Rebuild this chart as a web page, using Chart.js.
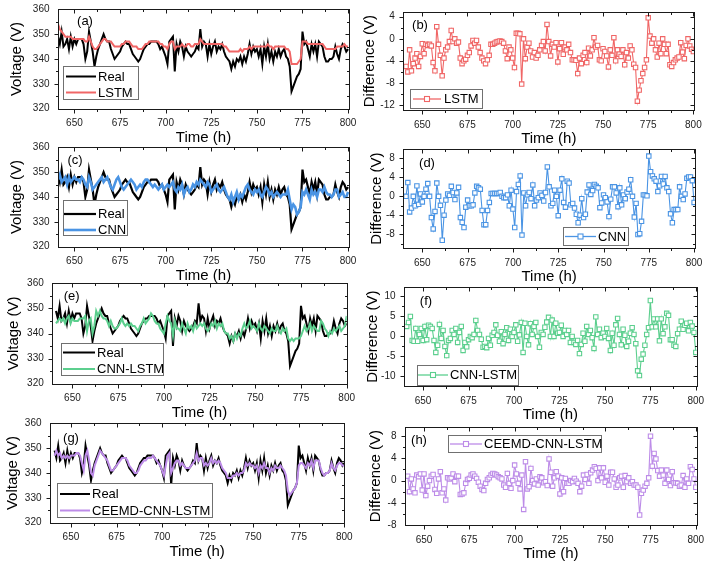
<!DOCTYPE html>
<html>
<head>
<meta charset="utf-8">
<script src="https://cdn.jsdelivr.net/npm/chart.js@4.4.1/dist/chart.umd.min.js"></script>
<style>
body { margin: 0; background: #fff; width: 709px; height: 565px; overflow: hidden; position: relative; }
canvas { position: absolute; }
</style>
</head>
<body>
<canvas id="pa"></canvas>
<canvas id="pb"></canvas>
<canvas id="pc"></canvas>
<canvas id="pd"></canvas>
<canvas id="pe"></canvas>
<canvas id="pf"></canvas>
<canvas id="pg"></canvas>
<canvas id="ph"></canvas>
<script>
// time axis (h)
const hours = [
  641,642,643,644,645,646,647,648,649,650,
  651,652,653,654,655,656,657,658,659,660,
  661,662,663,664,665,666,667,668,669,670,
  671,672,673,674,675,676,677,678,679,680,
  681,682,683,684,685,686,687,688,689,690,
  691,692,693,694,695,696,697,698,699,700,
  701,702,703,704,705,706,707,708,709,710,
  711,712,713,714,715,716,717,718,719,720,
  721,722,723,724,725,726,727,728,729,730,
  731,732,733,734,735,736,737,738,739,740,
  741,742,743,744,745,746,747,748,749,750,
  751,752,753,754,755,756,757,758,759,760,
  761,762,763,764,765,766,767,768,769,770,
  771,772,773,774,775,776,777,778,779,780,
  781,782,783,784,785,786,787,788,789,790,
  791,792,793,794,795,796,797,798,799,800
];

// measured voltage (V)
const real = [
  349,346,351,345,346,348,344,349,345,348,
  346,348,348,348,346,340,343,351,347,343,
  337,341,344,346,348,350,348,347,347,344,
  342,340,341,342,343,345,346,347,346,346,
  344,342,341,340,339,340,342,344,345,346,
  346,347,347,347,347,346,344,345,343,341,
  338,347,348,349,335,346,343,347,345,341,
  345,343,342,341,342,343,345,344,352,345,
  347,346,341,346,342,345,347,343,345,344,
  346,343,341,340,339,336,339,337,340,339,
  341,338,341,339,342,346,342,345,343,344,
  341,344,338,345,341,346,340,343,339,343,
  341,344,341,343,344,341,340,337,327,329,
  331,333,334,336,351,346,347,344,341,346,
  343,346,341,347,346,345,341,339,339,340,
  340,341,345,342,340,344,346,345,343,344
];

// predictions (V)
const lstm = [
  354,352,351,350,349,349,349,349,348,348,
  348,348,348,348,348,347,347,349,347,345,
  344,344,345,346,347,348,348,347,347,347,
  346,345,345,345,345,346,346,347,347,347,
  346,345,345,345,344,344,344,345,346,346,
  347,347,347,347,347,347,346,346,345,345,
  344,346,347,347,344,345,345,345,346,345,
  345,346,346,345,345,346,346,346,348,347,
  346,346,346,346,346,346,346,346,346,346,
  346,345,345,344,343,343,343,343,343,343,
  344,343,344,344,344,345,344,345,345,345,
  345,345,345,345,345,346,345,345,344,345,
  345,345,345,345,345,344,344,343,338,338,
  338,338,339,340,347,347,347,346,346,346,
  346,346,346,346,346,346,345,344,344,344,
  344,344,344,345,345,345,345,346,345,345
];
const cnn = [
  347,349,346,347,348,345,348,346,347,348,
  347,347,346,348,347,345,344,348,346,343,
  344,345,346,347,348,346,347,348,346,344,
  343,345,347,348,346,344,343,344,345,346,
  347,346,345,343,344,345,344,346,347,347,
  346,345,344,345,344,343,344,345,343,344,
  345,344,345,346,343,342,344,343,345,341,
  343,344,342,343,345,344,346,345,347,346,
  345,344,346,345,342,343,344,345,343,342,
  343,344,342,340,339,341,338,340,342,339,
  341,340,342,344,345,343,342,341,343,342,
  343,341,340,342,344,343,341,342,340,341,
  342,341,340,341,341,341,343,339,335,337,
  336,333,334,336,342,341,343,341,339,343,
  341,342,340,343,343,342,344,342,341,341,
  340,341,343,343,340,341,342,340,340,342
];
const cnnLstm = [
  344,345,346,345,346,344,346,347,344,346,
  345,345,345,346,346,346,347,341,345,346,
  340,343,349,347,349,347,346,346,345,343,
  345,343,342,342,343,344,346,344,343,344,
  343,344,343,343,342,341,343,344,346,344,
  345,346,348,347,345,344,344,342,341,340,
  344,347,345,344,339,345,342,342,341,344,
  342,340,344,342,343,341,344,342,343,344,
  343,344,342,341,342,344,343,345,342,344,
  343,344,341,340,340,338,339,337,340,338,
  340,339,342,344,342,343,345,342,343,342,
  341,344,342,341,343,342,341,340,342,341,
  341,343,341,340,342,341,342,338,337,338,
  337,338,338,338,339,341,343,341,342,344,
  341,343,342,341,341,345,344,342,341,339,
  341,340,342,341,342,343,341,342,343,347
];
const ceemd = [
  347,349,347,348,346,347,346,347,346,347,
  347,347,348,348,347,344,341,347,349,345,
  340,339,343,345,347,349,348,347,346,345,
  343,341,341,342,343,344,345,346,346,346,
  345,343,342,341,340,340,341,343,344,345,
  345,346,346,346,347,346,345,344,343,341,
  339,343,347,348,340,342,344,345,345,343,
  344,343,342,342,342,343,344,345,348,345,
  346,346,343,344,343,344,346,344,345,344,
  345,344,342,341,340,338,338,338,339,339,
  340,339,340,340,341,344,343,344,343,343,
  342,343,340,343,342,344,342,342,340,342,
  341,343,342,342,343,342,341,339,333,331,
  332,333,334,336,343,344,344,343,342,344,
  343,345,342,345,345,345,342,340,339,340,
  340,341,344,342,341,343,344,344,343,343
];

// differences (V)
const diffLstm = [
  -5,-6,-2,-5.8,-4.5,-3.5,-2.7,-5,-3.2,-0.9,
  -2.7,-1,-1.2,-1,-1.3,-4.3,-5.8,2.2,-1,-3,
  -6.7,-3.5,-2,-1.5,-0.5,1.5,-0.5,0,-0.8,-0.6,
  -3.5,-4.5,-4,-3.7,-3,-2.5,-1.3,-0.3,-0.8,-0.3,
  -1.5,-2.5,-3.5,-4,-4.5,-3.8,-3,-1,-1,-0.8,
  -0.6,-0.5,-0.4,-0.5,-0.8,-2.2,-3.6,-1.5,-2,-3.5,
  -5.2,1,1,0.9,-8.2,0,-3.6,-1.5,-0.8,-2.2,
  -3.3,-2.5,-3.5,-3,-2,-1.2,-0.5,-2.2,2.6,-0.5,
  -3.1,-1,-1.5,-0.7,-4.2,-1.8,-0.7,-2.8,-1.5,-2,
  -1,-2.5,-3.8,-3.8,-3.9,-6.3,-3.5,-4.5,-3,-2.5,
  -4.3,-1.7,-3.1,-2,0.2,-1.5,-1.2,-3.8,-4,-1.8,
  -2.3,-3.1,-5.1,-2,-3,0.2,-4,-2,-2.8,-3.2,
  -2,-4.7,-2.5,-3.5,-1.3,-2,-4.6,-5.2,-11.3,-9.3,
  -7.6,-6.3,-5.2,-3.8,3.8,0.5,-0.8,0,-2,-3.3,
  -0.8,-2.7,0,-1,-2.7,-1,-4.7,-5,-4.3,-3.8,
  -3.5,-3.3,-0.7,-2.4,-3.6,-1.2,0,-1.3,-1.9,-2.3
];
const diffCnn = [
  0,2.9,-3.3,-2.5,0,-2,2.2,-1.7,0.5,-1.2,
  0,1.5,2.7,0,-4.5,-6.9,-3.2,2.8,0,-1.9,
  -9.3,-4,-0.8,0.5,0.2,2.1,0.8,-0.7,0.7,1.9,
  -4.5,-5.5,-6.6,-2.3,-0.8,-2,-2,-1.8,0.7,2.1,
  1.8,1.5,-3,-6,-6,-3,-1.3,0.6,0.6,0.6,
  0.6,0.6,0.8,0,-0.3,-0.3,0.3,-2,1.3,-2.7,
  -6.6,1,2.5,4.3,-8.2,0.7,-2,0.3,0.8,-0.5,
  2.4,-2,-0.8,-0.3,0.7,0.2,-1,0.8,6.2,2,
  -2,-1.5,1.3,0,-4.1,1.3,3.7,-1.3,-2.3,3.2,
  2.8,-1.8,-1.5,-2.5,-3.8,-5.6,-4,-0.5,-4.5,-3.8,
  0.9,2.4,0.4,1.2,2.5,2.1,1.8,-2.4,-1.4,0.3,
  -0.3,-1.2,-4.3,-0.6,2,2,0.7,-2.2,1.8,-1.8,
  0.3,-0.5,0.9,1.5,3.5,0,-4.4,-1.5,-8.1,-7.9,
  -5.3,0.3,0.3,0.1,8.5,5.2,4.3,3.7,3.2,1,
  2.2,4.2,2.6,4.2,1.8,1,-3.7,-5.6,-2.8,-2.8,
  -2.8,2,0,-0.7,0.5,3.8,4.1,4.1,3.3,-1.3
];
const diffCnnLstm = [
  2.5,3.5,5,-1,-1.2,2,-1.2,0.5,2,-1,
  2.5,-0.8,2.8,2.5,2,-1,-4,-2.2,3,-0.5,
  1.5,-2.5,-4.8,-1,-0.5,1.5,0.5,2,-1.5,1,
  2.5,-3.5,-1.5,-2.6,-0.8,0,-0.3,0.5,4,1.5,
  0.5,-0.7,-2.7,-2.5,-2.8,-0.5,-2.2,0.3,1,2.9,
  0.3,-1.2,1.2,-1.8,0.5,2.2,-1,1.8,0,1,
  2.9,-1.2,0.4,3.5,-4,3.3,0,-2.1,3.2,0.5,
  2.5,3.5,0,-2.7,1,0.5,2.3,3.6,4.8,0,
  4.1,0,3.3,0.8,1,2.8,0,1.5,0.5,1.5,
  -1.5,0,-1.5,-2,-1,-4.3,-2,0.8,-1.2,2.5,
  0.5,1.5,-0.3,-3,4.9,0.5,1.8,-0.3,0.8,0,
  2,-0.5,-3.5,0.8,-2.2,2.9,4.5,0.5,-2.1,1.8,
  0.3,-2.5,-1.2,0.8,2.2,0.5,-1.8,-8.6,-9.8,-5.7,
  -4.4,-2.2,0.5,2.2,9,2.4,4.4,2.4,4.4,-1.1,
  4.4,0.7,2.4,5.8,5.3,-0.8,-0.8,-2.2,-2.5,0.7,
  1.8,3.8,1.8,2.8,3.3,1.4,3.5,2.6,1,-4
];
const diffCeemd = [
  0.8,-2,0.3,-1.5,-2.2,1,0.7,1.2,-1.7,1.2,
  -2.7,-1,0,0.8,1.1,-1.6,-2.3,0.3,1.6,-2.2,
  -1.5,-3.5,0.5,0.3,0.5,1.2,-0.2,0.8,0.8,-2.5,
  -2.4,-2.2,-0.5,0.2,0.4,1,1.2,0.8,0.4,-0.3,
  -1,-1.6,-1.8,-0.5,0.2,0.5,1,1.3,1.2,1,
  0.7,0.5,0.3,-0.8,-1.2,1.3,-0.5,-1.4,0,2.8,
  1.2,-0.5,-1.5,1,-5.2,3.4,-1.5,-1.1,2.2,0,
  -0.6,0.3,-0.8,0.7,0.5,-0.4,-0.2,-0.9,3.9,1.5,
  -1,0.5,1.6,0.8,-2.4,0.5,-2,0.4,-0.5,-0.5,
  0,-0.2,0.4,-0.1,-0.5,-2,-1,1,0.2,1.1,
  -0.5,1.4,1.9,2.5,2.2,0,2.3,0.5,2.3,-0.3,
  0.8,-0.8,1.5,1.5,0.3,-1.2,-0.8,0.5,0.8,-1.2,
  0.9,-0.2,0.5,-0.5,-0.2,-0.8,-0.8,-1.2,-6.2,-2.3,
  -1.7,-1,-0.5,0.5,8,2.6,4.9,3.9,1.8,0.8,
  1.9,1,-0.5,1.9,0.2,-0.9,1.6,-0.4,-0.4,-0.5,
  -1,-0.8,0.9,-1.2,0.3,-0.5,2.5,2,0.3,-1.2
];

// tick labels
const timeTicks = [650, 675, 700, 725, 750, 775, 800];
const voltTicks = [320, 330, 340, 350, 360];
const diffTicksB = [-12, -8, -4, 0, 4];
const diffTicksD = [-8, -4, 0, 4, 8];
const diffTicksF = [-10, -5, 0, 5, 10];
const diffTicksH = [-8, -4, 0, 4, 8];

const FONT = '"Liberation Sans", Arial, sans-serif';
const RED = '#f06666', BLUE = '#4a94e4', GREEN = '#5ccf8e', PURPLE = '#bd8ce8';

function pts(ys) {
    return hours.map((h, i) => ({ x: h, y: ys[i] }));
}

function minors(ticks, lo, hi) {
    const step = ticks[1] - ticks[0];
    const out = [];
    for (let i = -1; i < ticks.length; i++) {
        const v = (i < 0 ? ticks[0] - step : ticks[i]) + step / 2;
        if (v > lo && v < hi) out.push(v);
    }
    return out;
}

function lineSet(label, ys, color, width) {
    return {
        label: label, data: pts(ys), borderColor: color, borderWidth: width,
        pointRadius: 0, tension: 0, order: label === 'Real' ? 1 : 0
    };
}

function diffSet(label, ys, color) {
    return {
        label: label, data: pts(ys), borderColor: color, borderWidth: 1.1,
        pointStyle: 'rect', pointRadius: 3.1, pointBorderWidth: 1.1,
        pointBorderColor: color, pointBackgroundColor: '#fff', tension: 0, marker: true
    };
}

function noPad(s) {
    s.paddingTop = 0; s.paddingBottom = 0; s.paddingLeft = 0; s.paddingRight = 0;
}

function makePanel(id, p, datasets) {
    const cl = Math.round(p.titleX - 13), ct = Math.round(p.T - 6);
    const cr = Math.min(709, Math.round(p.R + 12)), cb = Math.round(p.B + 42);
    const cv = document.getElementById(id);
    cv.width = cr - cl;
    cv.height = cb - ct;
    cv.style.left = cl + 'px';
    cv.style.top = ct + 'px';

    const deco = {
        id: 'deco',
        afterDraw(chart) {
            const ctx = chart.ctx, a = chart.chartArea;
            const xs = chart.scales.x, ys = chart.scales.y;
            ctx.save();
            ctx.strokeStyle = '#1a1a1a';
            ctx.lineWidth = 1;
            const L = Math.round(a.left) + 0.5, R = Math.round(a.right) + 0.5;
            const T = Math.round(a.top) + 0.5, B = Math.round(a.bottom) + 0.5;
            ctx.strokeRect(L, T, R - L, B - T);
            ctx.beginPath();
            const tx = (v, len) => {
                const x = Math.round(xs.getPixelForValue(v)) + 0.5;
                ctx.moveTo(x, B); ctx.lineTo(x, B + len);
                ctx.moveTo(x, T); ctx.lineTo(x, T + len);
            };
            const ty = (v, len) => {
                const y = Math.round(ys.getPixelForValue(v)) + 0.5;
                ctx.moveTo(L, y); ctx.lineTo(L - len, y);
                ctx.moveTo(R, y); ctx.lineTo(R - len, y);
            };
            timeTicks.forEach(v => tx(v, 4));
            minors(timeTicks, p.xmin, p.xmax).forEach(v => tx(v, 2.5));
            p.yticks.forEach(v => { if (v > p.ymin && v < p.ymax) ty(v, 4); });
            minors(p.yticks, p.ymin, p.ymax).forEach(v => ty(v, 2.5));
            ctx.stroke();

            // panel tag
            ctx.fillStyle = '#000';
            ctx.font = '13px ' + FONT;
            ctx.textAlign = 'center';
            ctx.textBaseline = 'middle';
            ctx.fillText(p.tag, p.tagX - cl, p.tagY - ct);

            // legend box
            const lg = p.legend;
            ctx.fillStyle = '#fff';
            ctx.fillRect(lg.x - cl, lg.y - ct, lg.w, lg.h);
            ctx.strokeStyle = '#707070';
            ctx.lineWidth = 1;
            ctx.strokeRect(Math.round(lg.x - cl) + 0.5, Math.round(lg.y - ct) + 0.5, Math.round(lg.w), Math.round(lg.h));
            chart.data.datasets.forEach((ds, k) => {
                const y = lg.rows[k] - ct;
                ctx.strokeStyle = ds.borderColor;
                ctx.lineWidth = ds.marker ? 1.3 : ds.borderWidth;
                ctx.beginPath();
                ctx.moveTo(lg.x0 - cl, y);
                ctx.lineTo(lg.x1 - cl, y);
                ctx.stroke();
                if (ds.marker) {
                    const m = (lg.x0 + lg.x1) / 2 - cl;
                    ctx.fillStyle = '#fff';
                    ctx.fillRect(m - 2.5, y - 2.5, 5, 5);
                    ctx.lineWidth = 1.1;
                    ctx.strokeRect(m - 2.5, y - 2.5, 5, 5);
                }
                ctx.fillStyle = '#000';
                ctx.font = '13px ' + FONT;
                ctx.textAlign = 'left';
                ctx.textBaseline = 'middle';
                ctx.fillText(ds.label, lg.tx - cl, y + 0.5);
            });
            ctx.restore();
        }
    };

    return new Chart(cv, {
        type: 'line',
        data: { datasets: datasets },
        options: {
            responsive: false,
            animation: false,
            devicePixelRatio: 1,
            layout: { padding: { top: p.T - ct, right: cr - cl - (p.R - cl), left: 0, bottom: 0 } },
            plugins: { legend: { display: false }, tooltip: { enabled: false } },
            scales: {
                x: {
                    type: 'linear', min: p.xmin, max: p.xmax,
                    grid: { display: false, drawTicks: false },
                    border: { display: false },
                    afterBuildTicks: s => { s.ticks = timeTicks.map(v => ({ value: v })); },
                    afterFit: s => { s.height = cb - p.B; noPad(s); },
                    ticks: {
                        padding: 9, autoSkip: false, maxRotation: 0, color: '#222',
                        font: { family: FONT, size: 10 }
                    },
                    title: {
                        display: true, text: 'Time (h)', color: '#000',
                        font: { family: FONT, size: 15 }, padding: { top: 4, bottom: 4 }
                    }
                },
                y: {
                    type: 'linear', min: p.ymin, max: p.ymax,
                    grid: { display: false, drawTicks: false },
                    border: { display: false },
                    afterBuildTicks: s => { s.ticks = p.yticks.map(v => ({ value: v })); },
                    afterFit: s => { s.width = p.L - cl; noPad(s); },
                    ticks: { padding: 8.5, color: '#222', font: { family: FONT, size: 10 } },
                    title: {
                        display: true, text: p.ytitle, color: '#000',
                        font: { family: FONT, size: 15 }, padding: { top: 4, bottom: 4 }
                    }
                }
            }
        },
        plugins: [deco]
    });
}

const volt = { ymin: 320, ymax: 360, yticks: voltTicks, ytitle: 'Voltage (V)' };
const diffT = 'Difference (V)';

makePanel('pa', Object.assign({
    L: 58, R: 349, T: 9.3, B: 108.7, titleX: 16.7, xmin: 641, xmax: 800.5,
    tag: '(a)', tagX: 85, tagY: 21.7,
    legend: { x: 63, y: 66, w: 75, h: 33, rows: [76.5, 92.5], x0: 66, x1: 96, tx: 98 }
}, volt), [lineSet('Real', real, '#000', 2), lineSet('LSTM', lstm, RED, 2)]);

makePanel('pc', Object.assign({
    L: 58, R: 349, T: 147.3, B: 246.7, titleX: 16.7, xmin: 641, xmax: 800.5,
    tag: '(c)', tagX: 75, tagY: 160,
    legend: { x: 63, y: 200, w: 64, h: 35, rows: [214, 230], x0: 64, x1: 96, tx: 98 }
}, volt), [lineSet('Real', real, '#000', 2.2), lineSet('CNN', cnn, BLUE, 2.6)]);

makePanel('pe', Object.assign({
    L: 52.3, R: 346.7, T: 283.3, B: 383.7, titleX: 14, xmin: 639, xmax: 800,
    tag: '(e)', tagX: 71.7, tagY: 296.7,
    legend: { x: 61, y: 343, w: 102, h: 32, rows: [352.5, 369], x0: 63, x1: 95, tx: 97 }
}, volt), [lineSet('Real', real, '#000', 2), lineSet('CNN-LSTM', cnnLstm, GREEN, 2)]);

makePanel('pg', Object.assign({
    L: 50, R: 344.3, T: 423.3, B: 522.7, titleX: 12.5, xmin: 638.5, xmax: 800,
    tag: '(g)', tagX: 71, tagY: 438.3,
    legend: { x: 57, y: 483, w: 155, h: 34, rows: [494, 510.5], x0: 60, x1: 90, tx: 92 }
}, volt), [lineSet('Real', real, '#000', 2), lineSet('CEEMD-CNN-LSTM', ceemd, PURPLE, 2)]);

makePanel('pb', {
    L: 403.3, R: 694.3, T: 12.3, B: 110, titleX: 370, xmin: 639.5, xmax: 800.5,
    ymin: -12.9, ymax: 4.8, yticks: diffTicksB, ytitle: diffT,
    tag: '(b)', tagX: 420, tagY: 25,
    legend: { x: 410, y: 89, w: 72, h: 19, rows: [99], x0: 413, x1: 441, tx: 444 }
}, [diffSet('LSTM', diffLstm, RED)]);

makePanel('pd', {
    L: 403.3, R: 695, T: 149, B: 248.3, titleX: 377, xmin: 639.5, xmax: 800.5,
    ymin: -11, ymax: 10, yticks: diffTicksD, ytitle: diffT,
    tag: '(d)', tagX: 427, tagY: 163.3,
    legend: { x: 563, y: 227, w: 65, h: 18, rows: [236.5], x0: 565, x1: 596, tx: 598 }
}, [diffSet('CNN', diffCnn, BLUE)]);

makePanel('pf', {
    L: 404, R: 696.7, T: 287.3, B: 386, titleX: 372.7, xmin: 639.5, xmax: 800.5,
    ymin: -12.4, ymax: 12.3, yticks: diffTicksF, ytitle: diffT,
    tag: '(f)', tagX: 426, tagY: 301.7,
    legend: { x: 417, y: 365, w: 101, h: 20, rows: [375], x0: 418, x1: 448, tx: 450 }
}, [diffSet('CNN-LSTM', diffCnnLstm, GREEN)]);

makePanel('ph', {
    L: 405, R: 696.7, T: 427.3, B: 525, titleX: 376, xmin: 639.5, xmax: 800.5,
    ymin: -8, ymax: 9.6, yticks: diffTicksH, ytitle: diffT,
    tag: '(h)', tagX: 419, tagY: 440,
    legend: { x: 448, y: 435, w: 153, h: 17, rows: [444], x0: 450, x1: 482, tx: 484 }
}, [diffSet('CEEMD-CNN-LSTM', diffCeemd, PURPLE)]);
</script>
</body>
</html>
